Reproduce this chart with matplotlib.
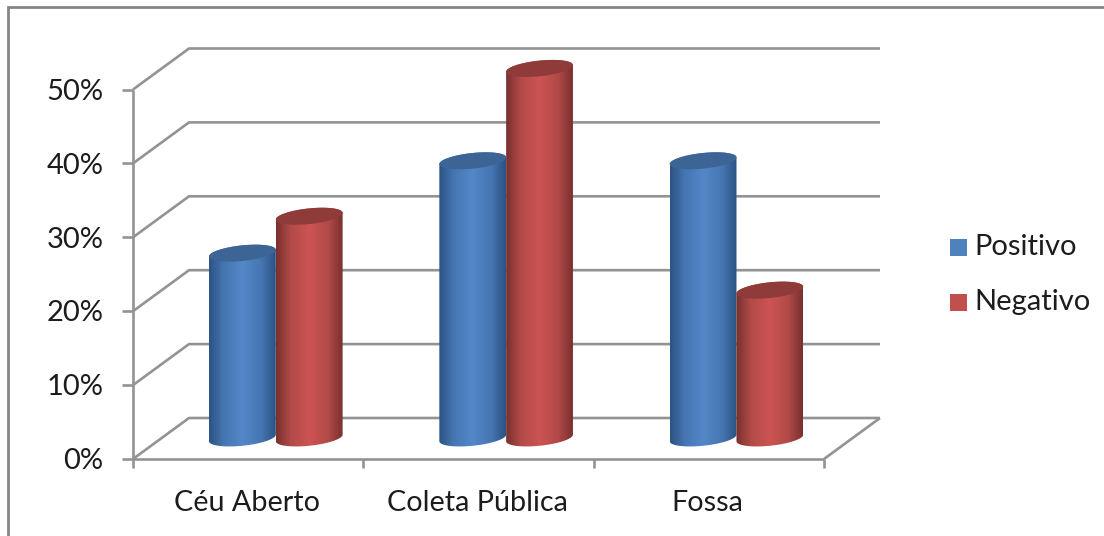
import numpy as np
import matplotlib
matplotlib.use("Agg")
import matplotlib.pyplot as plt
from matplotlib.colors import LinearSegmentedColormap
from matplotlib.patches import Polygon, Rectangle

categories = ["Céu Aberto", "Coleta Pública", "Fossa"]
series_names = ["Positivo", "Negativo"]
positivo = [25, 37.5, 37.5]
negativo = [30, 50, 20]
y_ticks = [0, 10, 20, 30, 40, 50]
y_labels = ["0%", "10%", "20%", "30%", "40%", "50%"]

W, H = 1104, 536
GRID = "#939393"
FONT = ["Lato", "DejaVu Sans"]
TEXT = "#1c1c1c"

fig = plt.figure(figsize=(W / 100, H / 100), dpi=100, facecolor="white")

# Front plane of the 3D box: 133..824 px wide, 0%..50% over 459..89.5 px
L, R, B, T = 133, 824, 459, 89.5
ax = fig.add_axes([L / W, 1 - B / H, (R - L) / W, (B - T) / H])
ax.axis("off")

DX = 56 / ((R - L) / 3)        # depth shift along x, category units
DY = 41 / ((B - T) / 50)       # depth shift along y, percent units
BAR_W = 0.29
BAR_START = 0.33
BASE = 2.85                    # centre of the cylinder foot
SEMI_MINOR = 1.06
TILT = 0.45                    # half the rise of the cap from left to right

line = dict(color=GRID, lw=1.9, clip_on=False, solid_capstyle="butt", zorder=1)

# Walls and floor
for v in y_ticks:
    ax.plot([0, DX, 3 + DX], [v, v + DY, v + DY], **line)
ax.plot([3, 3 + DX], [0, DY], **line)
ax.plot([0, 3], [0, 0], **line)
ax.plot([0, 0], [0, 50], **line)

# Axis ticks and labels
for v, lab in zip(y_ticks, y_labels):
    ax.plot([-0.047, 0], [v, v], **line)
    ax.text(-0.128, v - 0.3, lab, ha="right", va="center", fontsize=21,
            family=FONT, color=TEXT, clip_on=False)
for i in range(4):
    ax.plot([i, i], [0, -1.25], **line)
for i, cat in enumerate(categories):
    ax.text(i + 0.495, -5.9, cat, ha="center", va="center", fontsize=20.7,
            family=FONT, color=TEXT, clip_on=False)


def cylinder(left, value, edge, inner, mid, top, z):
    cx = left + BAR_W / 2
    t = np.linspace(np.pi, 2 * np.pi, 60)
    # lower half of the foot, then the upper half of the cap on the way back
    x_b = cx + BAR_W / 2 * np.cos(t)
    y_b = BASE + TILT * np.cos(t) + SEMI_MINOR * np.sin(t)
    x_t = x_b[::-1]
    y_t = BASE + value + TILT * np.cos(t[::-1]) - SEMI_MINOR * np.sin(t[::-1])
    verts = np.column_stack([np.r_[x_b, x_t], np.r_[y_b, y_t]])

    cmap = LinearSegmentedColormap.from_list(
        "side", [(0, edge), (0.22, inner), (0.5, mid), (0.78, inner), (1, edge)], N=256)
    shade = np.linspace(0, 1, 256)[None, :]
    im = ax.imshow(shade, cmap=cmap, aspect="auto", zorder=z, interpolation="bilinear",
                   extent=[left, left + BAR_W, 0, BASE + value + 2])
    clip = Polygon(verts, closed=True, transform=ax.transData, fc="none", ec="none")
    ax.add_patch(clip)
    im.set_clip_box(fig.bbox)
    im.set_clip_path(clip)

    # cap ellipse
    a = np.linspace(0, 2 * np.pi, 120)
    ax.fill(cx + BAR_W / 2 * np.cos(a),
            BASE + value + TILT * np.cos(a) + SEMI_MINOR * np.sin(a),
            color=top, lw=0, zorder=z + 0.1, clip_on=False)


for i in range(len(categories)):
    cylinder(i + BAR_START, positivo[i], "#2b5283", "#4676b2", "#5387c8", "#3c6596", 3 + i)
    cylinder(i + BAR_START + BAR_W, negativo[i], "#78302e", "#b24a48", "#cc5452", "#8e3b39", 3.5 + i)

ax.set_xlim(0, 3)
ax.set_ylim(0, 50)

# Full-figure overlay for the frame and the legend
ov = fig.add_axes([0, 0, 1, 1], facecolor="none")
ov.set_xlim(0, W)
ov.set_ylim(H, 0)
ov.axis("off")
ov.plot([8, 8, W], [H, 7, 7], color="#868686", lw=2.0, solid_joinstyle="miter")

legend_colors = ["#4f81bd", "#c0504d"]
for name, col, y in zip(series_names, legend_colors, [247, 302]):
    ov.add_patch(Rectangle((950, y - 8.5), 17, 17, fc=col, ec="none"))
    ov.text(974.5, y, name, ha="left", va="center", fontsize=21, family=FONT, color=TEXT)

fig.savefig("out.png", dpi=100, facecolor="white")
